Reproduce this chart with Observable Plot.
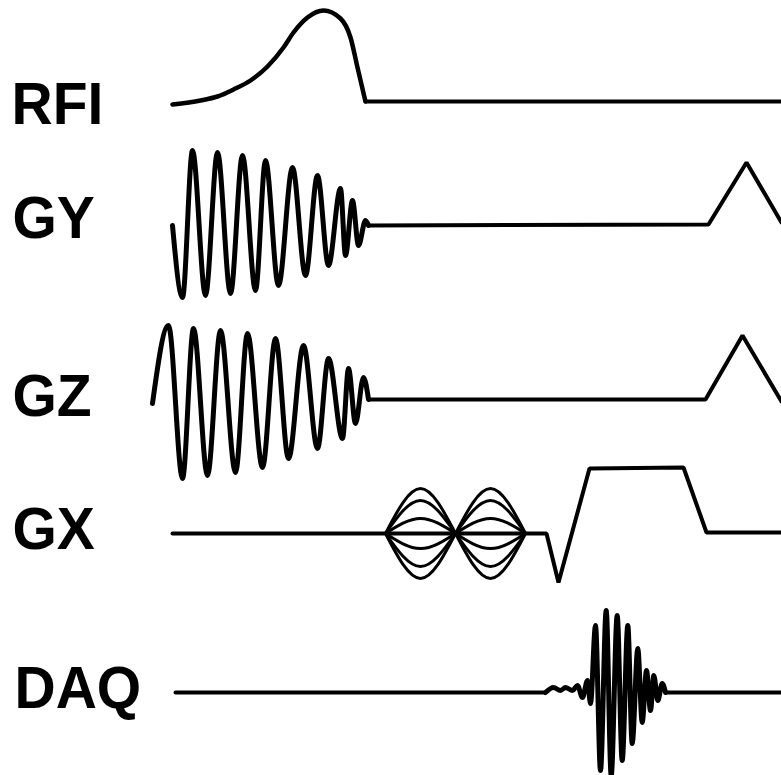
<!DOCTYPE html>
<html><head><meta charset="utf-8">
<script src="https://cdn.jsdelivr.net/npm/d3@7"></script>
<script src="https://cdn.jsdelivr.net/npm/@observablehq/plot@0.6"></script>
<style>html,body{margin:0;padding:0;background:#fff;}</style>
</head><body><div id="chart"></div>
<script>
// Track labels
const labels = ["RFI", "GY", "GZ", "GX", "DAQ"];
const labelX = [11, 12, 12, 12, 14];
const labelY = [123, 237, 415, 548, 707];

// RF pulse (time, level)
const rfiPulse = [[172,104],[200,100],[217,96],[233,89],[250,80],[267,66],[283,47],[293,32],[307,17],[323,10],[340,18],[350,37],[357,67],[365,101]];
const rfiLine = [[365,101],[781,101]];

// GY gradient: oscillating waveform extrema, then flat + triangle
const gyWave = [[172,225],[182,297],[192,150],[205,295],[217,152],[230,293],[242,155],[255,290],[265,160],[278,285],[292,167],[305,275],[317,175],[328,265],[340,188],[345,255],[352,200],[358,245],[365,220],[368,225]];
const gyLine = [[368,225],[708,224],[746,162],[781,222]];

// GZ gradient
const gzWave = [[152,403],[168,325],[182,478],[193,328],[207,475],[220,330],[235,472],[247,333],[262,467],[275,338],[288,458],[303,345],[317,448],[328,358],[342,438],[348,368],[355,423],[363,377],[368,399]];
const gzLine = [[368,399],[705,399],[742,335],[781,401]];

// GX gradient: phase-encode lobes (start times, width, baseline, amplitudes) + readout
const gxLobeStart = [385, 455];
const gxLobeWidth = 70;
const gxBase = 533;
const gxLobeAmp = [45, 33, 15, 0, -15, -33, -45];
const gxLine = [[172,533],[546,533],[558,582],[589,468],[683,467],[706,532],[781,532]];

// DAQ: acquired echo extrema
const daqLine1 = [[175,692],[545,692]];
const daqEcho = [[545,692],[553,687],[560,690],[565,687],[572,690],[577,685],[582,697],[587,680],[590,703],[595,625],[600,770],[605.7,610],[610.7,775],[616.7,615],[621.7,760],[627.3,625],[631.7,743],[637.3,648],[641.7,722],[646,670],[650,710],[653.3,675],[657.3,700],[661.7,683],[665,692]];
const daqLine2 = [[665,692],[781,692]];

const rows = (pts, id) => pts.map(([t, v]) => ({t, v, id}));

const pulse = rows(rfiPulse, "rfi");
const smooth = [
  ...rows(gyWave, "gy"),
  ...rows(gzWave, "gz")
];
const straight = [
  ...rows(rfiLine, "rfi"),
  ...rows(gyLine, "gy"),
  ...rows(gzLine, "gz"),
  ...rows(gxLine, "gx"),
  ...rows(daqLine1, "daq1"),
  ...rows(daqLine2, "daq2")
];
const lobes = [];
gxLobeStart.forEach((s, i) => gxLobeAmp.forEach((a, j) => {
  const id = `lobe${i}_${j}`;
  lobes.push({t: s, v: gxBase, id});
  lobes.push({t: s + gxLobeWidth / 2, v: gxBase - a, id});
  lobes.push({t: s + gxLobeWidth, v: gxBase, id});
}));
const echo = rows(daqEcho, "echo");
const labelRows = labels.map((label, i) => ({label, x: labelX[i], y: labelY[i]}));

const chart = Plot.plot({
  width: 781, height: 775, margin: 0,
  style: {background: "#fff"},
  x: {domain: [0, 781], range: [0, 781], axis: null},
  y: {domain: [0, 775], range: [0, 775], axis: null},
  marks: [
    Plot.line(straight, {x: "t", y: "v", z: "id", stroke: "#000", strokeWidth: 4, strokeLinejoin: "miter"}),
    Plot.line(pulse, {x: "t", y: "v", curve: "monotone-x", stroke: "#000", strokeWidth: 4.5}),
    Plot.line(smooth, {x: "t", y: "v", z: "id", curve: "monotone-x", stroke: "#000", strokeWidth: 5}),
    Plot.line(lobes, {x: "t", y: "v", z: "id", curve: "natural", stroke: "#000", strokeWidth: 3}),
    Plot.line(echo, {x: "t", y: "v", curve: "monotone-x", stroke: "#000", strokeWidth: 5}),
    Plot.text(labelRows, {x: "x", y: "y", text: "label", textAnchor: "start", lineAnchor: "bottom",
      fontSize: 57, fontWeight: "bold", fontFamily: "Liberation Sans, Arial, Helvetica, sans-serif", fill: "#000"})
  ]
});
document.getElementById("chart").appendChild(chart);

// stretch label glyphs vertically to match the reference lettering
d3.select(chart).selectAll("text").each(function() {
  const t = d3.select(this);
  const tr = t.attr("transform");
  if (tr) {
    t.attr("transform", tr + " scale(1,1.03)");
  } else if (t.attr("x") != null && t.attr("y") != null) {
    const x = +t.attr("x"), y = +t.attr("y");
    t.attr("x", null).attr("y", null).attr("transform", `translate(${x},${y}) scale(1,1.03)`);
  }
});
</script>
</body></html>
